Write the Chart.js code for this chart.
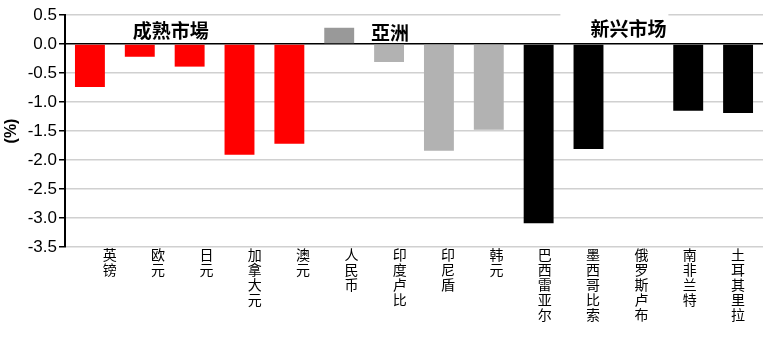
<!DOCTYPE html>
<html>
<head>
<meta charset="utf-8">
<script src="https://cdn.jsdelivr.net/npm/chart.js@4/dist/chart.umd.min.js"></script>
<style>
	body { margin: 0; background: #fff; }
	#wrap { width: 776px; height: 350px; }
</style>
</head>
<body>
<div id="wrap"><canvas id="bar-chart" width="776" height="350"></canvas></div>
<script>
const currencies = ["英镑", "欧元", "日元", "加拿大元", "澳元", "人民币", "印度卢比", "印尼盾", "韩元", "巴西雷亚尔", "墨西哥比索", "俄罗斯卢布", "南非兰特", "土耳其里拉"];
const changes = [-0.74, -0.22, -0.39, -1.91, -1.72, 0.28, -0.31, -1.84, -1.48, -3.09, -1.81, 0, -1.15, -1.19];
const barColors = ["#FF0000", "#FF0000", "#FF0000", "#FF0000", "#FF0000", "#999999", "#B2B2B2", "#B2B2B2", "#B2B2B2", "#000000", "#000000", "#000000", "#000000", "#000000"];
const yTicks = [0.5, 0.0, -0.5, -1.0, -1.5, -2.0, -2.5, -3.0, -3.5];
// group titles: text, position in category units, y value
const groups = [
	{ text: "成熟市場", at: 1.62, y: 0.22, box: false },
	{ text: "亞洲", at: 6.02, y: 0.2, box: false },
	{ text: "新兴市场", at: 10.8, y: 0.27, box: true }
];

const cjk = "'Noto Sans CJK SC', sans-serif";

const groupLabels = {
	id: "groupLabels",
	afterDatasetsDraw(chart) {
		const ctx = chart.ctx;
		const xs = chart.scales.x;
		const ys = chart.scales.y;
		const step = xs.getPixelForValue(1) - xs.getPixelForValue(0);
		ctx.save();
		ctx.font = "bold 19px " + cjk;
		ctx.textAlign = "center";
		ctx.textBaseline = "middle";
		groups.forEach(g => {
			const x = xs.getPixelForValue(0) + g.at * step;
			const y = ys.getPixelForValue(g.y);
			if (g.box) {
				const w = ctx.measureText(g.text).width;
				ctx.fillStyle = "#fff";
				ctx.fillRect(x - w / 2 - 30, ys.getPixelForValue(0.5) - 3, w + 32, 26);
			}
			ctx.fillStyle = "#000";
			ctx.fillText(g.text, x, y);
		});
		ctx.restore();
	}
};

const barContext = document.getElementById("bar-chart").getContext("2d");
const barChart = new Chart(barContext, {
	type: "bar",
	data: {
		labels: currencies,
		datasets: [{
			data: changes,
			backgroundColor: barColors,
			categoryPercentage: 1,
			barPercentage: 0.6
		}]
	},
	options: {
		responsive: false,
		animation: false,
		layout: { padding: { top: 15, right: 13, left: 0, bottom: 0 } },
		plugins: { legend: { display: false }, tooltip: { enabled: false } },
		scales: {
			x: {
				grid: { display: false },
				border: { display: false },
				ticks: { display: false },
				afterFit(scale) { scale.height = 0; }
			},
			// label axis: the source spaces the names a little tighter than the bars
			xLabels: {
				type: "linear",
				position: "bottom",
				min: -0.41,
				max: 13.0,
				afterBuildTicks(scale) { scale.ticks = currencies.map((c, i) => ({ value: i })); },
				grid: { display: false },
				border: { display: false },
				ticks: {
					autoSkip: false,
					maxRotation: 0,
					minRotation: 0,
					color: "#000",
					padding: -8,
					font: { family: cjk, size: 14, lineHeight: 1.07 },
					callback: v => currencies[v].split("")
				},
				afterFit(scale) { scale.height = 103; }
			},
			y: {
				min: -3.5,
				max: 0.5,
				afterBuildTicks(scale) { scale.ticks = yTicks.map(v => ({ value: v })); },
				grid: {
					color: c => c.tick && c.tick.value === 0 ? "#000" : "#D0D0D0",
					lineWidth: 1.5,
					tickColor: "#000",
					tickLength: 6
				},
				border: { color: "#000", width: 2 },
				ticks: {
					color: "#000",
					padding: 2,
					font: { family: "'Liberation Sans Narrow', 'Liberation Sans', Arial", size: 17 },
					callback: v => v.toFixed(1)
				},
				title: {
					display: true,
					text: "(%)",
					color: "#000",
					padding: 2,
					font: { family: "'Liberation Sans', Arial", size: 16, weight: "bold" }
				},
				afterFit(scale) { scale.width = 65; }
			}
		}
	},
	plugins: [groupLabels]
});
</script>
</body>
</html>
